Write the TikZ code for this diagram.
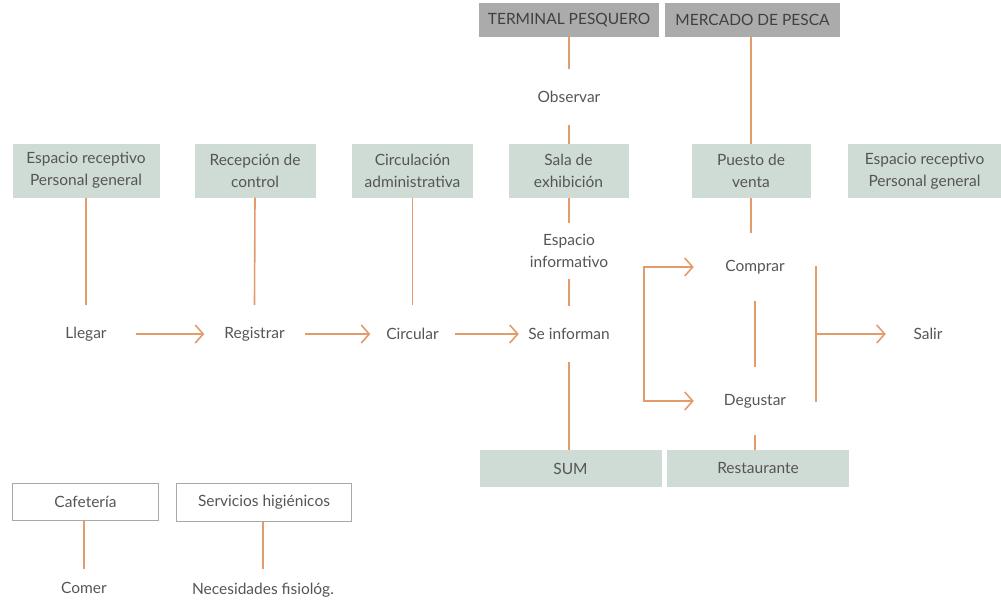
\documentclass[tikz,border=0pt]{standalone}
\usepackage{fontspec}
\setmainfont{Lato}
\usetikzlibrary{arrows.meta}
\definecolor{ora}{HTML}{E39B6B}
\definecolor{grn}{HTML}{CFDCD6}
\definecolor{gry}{HTML}{ABABAB}
\definecolor{txt}{HTML}{555555}
\definecolor{brd}{HTML}{A8A8A8}
\tikzset{
  base/.style={font=\fontsize{15.5}{22}\selectfont, text=txt, align=center, inner sep=0pt},
  greenbox/.style={base, fill=grn},
  graybox/.style={base, fill=gry, text=black!75},
  whitebox/.style={base, draw=brd, line width=1.4pt},
  lbl/.style={base},
  conn/.style={draw=ora, line width=1.6pt},
  arr/.style={conn, -{Straight Barb[length=8pt,width=18pt]}},
  darr/.style={conn, {Straight Barb[length=8pt,width=18pt]}-{Straight Barb[length=8pt,width=18pt]}},
}
\begin{document}
\begin{tikzpicture}[x=1pt,y=-1pt]
\useasboundingbox (0,0) rectangle (1001,603);
% top boxes
\node[graybox, minimum width=180, minimum height=34] (tp) at (569,20) {TERMINAL PESQUERO};
\node[graybox, minimum width=175, minimum height=34] (mp) at (752.5,20) {MERCADO DE PESCA};
% green boxes
\node[greenbox, minimum width=147, minimum height=54] (er1) at (86,170.5) {Espacio receptivo\\Personal general};
\node[greenbox, minimum width=121, minimum height=54] (rc) at (255,170.5) {Recepción de\\control};
\node[greenbox, minimum width=121, minimum height=54] (ca) at (412.5,171) {Circulación\\administrativa};
\node[greenbox, minimum width=120, minimum height=54] (sala) at (568.5,171) {Sala de\\exhibición};
\node[greenbox, minimum width=119, minimum height=54] (pv) at (751,171) {Puesto de\\venta};
\node[greenbox, minimum width=153, minimum height=54] (er2) at (924.5,171) {Espacio receptivo\\Personal general};
\node[greenbox, minimum width=182, minimum height=37] (sum) at (570.5,468.5) {SUM};
\node[greenbox, minimum width=182, minimum height=37] (rest) at (758,468.5) {Restaurante};
% white boxes
\node[whitebox, minimum width=146, minimum height=37] (caf) at (85.5,502) {Cafetería};
\node[whitebox, minimum width=175, minimum height=38] (sh) at (264,502.5) {Servicios higiénicos};
% labels
\node[lbl, minimum width=100, minimum height=58] (llegar) at (86,334) {Llegar};
\node[lbl, minimum width=100, minimum height=58] (registrar) at (254.5,334) {Registrar};
\node[lbl, minimum width=84, minimum height=58] (circular) at (412.5,334) {Circular};
\node[lbl, minimum width=100, minimum height=56] (seinf) at (569,334) {Se informan};
\node[lbl, minimum height=56] (observar) at (569,97) {Observar};
\node[lbl, minimum height=56] (espinf) at (569,251) {Espacio\\informativo};
\node[lbl, minimum width=122, minimum height=68] (comprar) at (755,267) {Comprar};
\node[lbl, minimum width=122, minimum height=68] (degustar) at (755,401) {Degustar};
\node[lbl, minimum width=84, minimum height=40] (salir) at (928,334) {Salir};
\node[lbl, minimum height=38] (comer) at (84,588) {Comer};
\node[lbl, minimum height=42] (neces) at (263,590) {Necesidades fisiológ.};
% coordinates
\coordinate (lt) at (644,267);
\coordinate (lb) at (644,401);
\coordinate (rt) at (816,266);
\coordinate (rb) at (816,402);
\coordinate (rm) at (816,334);
% vertical connectors
\draw[conn] (er1.south) -- (llegar.north);
\draw[conn] (rc.south) -- (registrar.north);
\draw[conn] (ca.south) -- (circular.north);
\draw[conn] (tp.south) -- (observar.north);
\draw[conn] (observar.south) -- (sala.north -| observar.south);
\draw[conn] (sala.south -| espinf.north) -- (espinf.north);
\draw[conn] (espinf.south) -- (seinf.north);
\draw[conn] (seinf.south) -- (sum.north -| seinf.south);
\draw[conn] (mp.south -| pv.north) -- (pv.north);
\draw[conn] (pv.south) -- (pv.south |- comprar.north);
\draw[conn] (comprar.south) -- (degustar.north);
\draw[conn] (degustar.south) -- (rest.north -| degustar.south);
\draw[conn] (caf.south -| comer.north) -- (comer.north);
\draw[conn] (sh.south -| neces.north) -- (neces.north);
% horizontal arrows
\draw[arr] (llegar.east) -- (registrar.west);
\draw[arr] (registrar.east) -- (circular.west);
\draw[arr] (circular.east) -- (seinf.west);
\draw[darr] (comprar.west) -- (lt) -- (lb) -- (degustar.west);
\draw[conn] (rt) -- (rb);
\draw[arr] (rm) -- (salir.west);
\end{tikzpicture}
\end{document}
